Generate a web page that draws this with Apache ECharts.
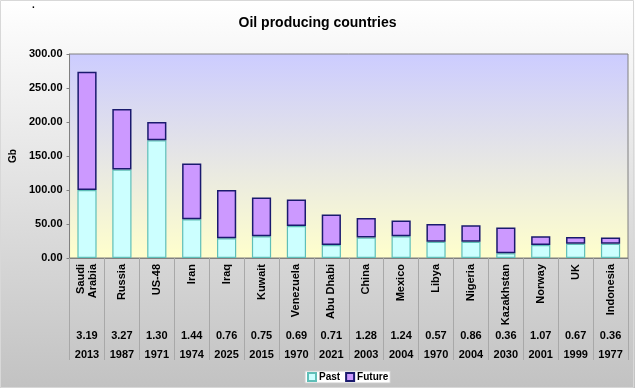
<!DOCTYPE html>
<html><head><meta charset="utf-8">
<script src="https://cdn.jsdelivr.net/npm/echarts@6/dist/echarts.min.js"></script>
<style>html,body{margin:0;padding:0;}#c{width:635px;height:388px;}</style>
</head><body><div id="c"></div>
<script>
const countries = ['Saudi\nArabia','Russia','US-48','Iran','Iraq','Kuwait','Venezuela','Abu Dhabi','China','Mexico','Libya','Nigeria','Kazakhstan','Norway','UK','Indonesia'];
const past   = [100, 130, 173, 57, 29, 32, 47, 19, 30, 32, 24, 24, 7, 19, 21, 21];
const future = [174,  89,  27, 82, 71, 57, 39, 45, 29, 23, 26, 24, 38, 13, 10,  9];
const ratios = ['3.19','3.27','1.30','1.44','0.76','0.75','0.69','0.71','1.28','1.24','0.57','0.86','0.36','1.07','0.67','0.36'];
const years  = ['2013','1987','1971','1974','2025','2015','1970','2021','2003','2004','1970','2004','2030','2001','1999','1977'];
const yTicks = [0, 50, 100, 150, 200, 250, 300];

const chart = echarts.init(document.getElementById('c'));
const font = 'Liberation Sans, Arial, sans-serif';
const bold = {fontFamily: font, fontWeight: 'bold', fontSize: 11, color: '#000'};
function extraAxis(data, offset) {
  return {type: 'category', data: data, gridIndex: 0, position: 'bottom', offset: offset,
    axisLine: {show: false}, axisTick: {show: false}, splitLine: {show: false},
    axisLabel: Object.assign({margin: 6, interval: 0}, bold)};
}
chart.setOption({
  animation: false,
  backgroundColor: new echarts.graphic.LinearGradient(0, 0, 0, 1, [
    {offset: 0, color: '#ffffff'}, {offset: 1, color: '#c2c2c2'}]),
  title: {text: 'Oil producing countries', left: 'center', top: 11,
    textStyle: {fontFamily: font, fontWeight: 'bold', fontSize: 14, color: '#000'}},
  graphic: [
    {type: 'rect', shape: {x: 0.5, y: 0.5, width: 633, height: 387}, style: {fill: 'none', stroke: '#d8d8d8', lineWidth: 1}, silent: true},
    {type: 'text', left: 32, top: 0, style: {text: '.', font: 'bold 10px ' + font, fill: '#000'}}
  ],
  legend: {left: 305, top: 371, itemWidth: 8, itemHeight: 8, itemGap: 5, icon: 'rect',
    padding: [1, 2], backgroundColor: '#ffffff', borderColor: '#cccccc', borderWidth: 1,
    textStyle: {fontFamily: font, fontWeight: 'bold', fontSize: 10, color: '#000', padding: [0, 0, 0, -2]},
    data: ['Past', 'Future']},
  grid: {left: 60, right: 7, top: 54, bottom: 130, show: true,
    backgroundColor: new echarts.graphic.LinearGradient(0, 0, 0, 1, [
      {offset: 0, color: '#ccccff'}, {offset: 1, color: '#ffffcc'}]),
    borderColor: '#808080', borderWidth: 1},
  xAxis: [
    {type: 'category', data: countries,
      axisLine: {lineStyle: {color: '#808080'}},
      axisTick: {show: true, interval: 0, length: 102, lineStyle: {color: '#a8a8a8'}},
      axisLabel: Object.assign({rotate: 90, interval: 0, margin: 6, lineHeight: 12}, bold)},
    extraAxis(ratios, 66),
    extraAxis(years, 85)
  ],
  yAxis: {type: 'value', min: yTicks[0], max: yTicks[yTicks.length - 1], interval: 50,
    name: 'Gb', nameLocation: 'middle', nameGap: 40, nameRotate: 90,
    nameTextStyle: {fontFamily: font, fontWeight: 'bold', fontSize: 10, color: '#000'},
    axisLine: {show: true, lineStyle: {color: '#808080'}},
    axisTick: {show: true, length: 3, lineStyle: {color: '#808080'}},
    splitLine: {show: false},
    axisLabel: Object.assign({margin: 7, formatter: v => v.toFixed(2)}, bold)},
  series: [
    {name: 'Past', type: 'bar', stack: 'a', data: past, barWidth: '55%',
      itemStyle: {color: '#ccffff', borderColor: '#5fbfb8', borderWidth: 1.2}},
    {name: 'Future', type: 'bar', stack: 'a', data: future, barWidth: '55%',
      itemStyle: {color: '#cc99ff', borderColor: '#1a1a6e', borderWidth: 1.5}}
  ]
});
</script></body></html>
